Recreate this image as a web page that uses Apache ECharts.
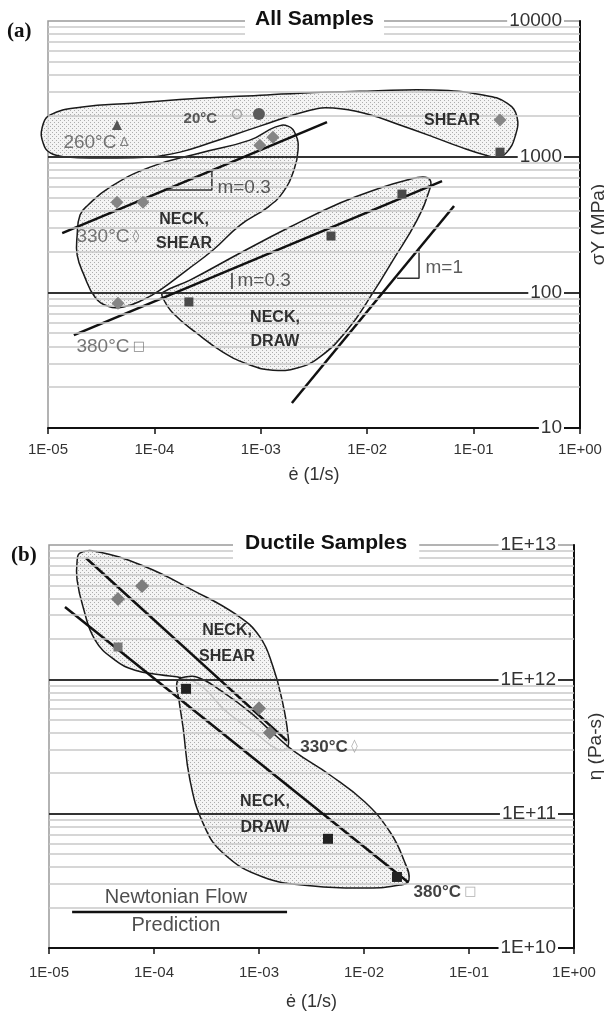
<!DOCTYPE html>
<html>
<head>
<meta charset="utf-8">
<script src="https://cdn.jsdelivr.net/npm/echarts@6/dist/echarts.min.js"></script>
<style>
html, body { margin: 0; padding: 0; background: #fff; }
#chart { width: 604px; height: 1017px; }
</style>
</head>
<body>
<div id="chart"></div>
<script>
// ---------- (a) All Samples : flow stress vs strain rate ----------
var aTriangle = [[4.45e-5, 1710]];
var aCircle = [[9.6e-4, 2060]];
var aDiamonds = [[4.45e-5, 462], [7.8e-5, 462], [9.8e-4, 1216], [1.3e-3, 1393], [0.177, 1860], [4.55e-5, 83]];
var aSquares = [[0.177, 1080], [2.11e-4, 85], [4.57e-3, 260], [0.0212, 530]];
var aRoomKey = [[5.97e-4, 2060]];   // hollow circle next to "20°C"

var aFitShear = [[1.36e-5, 273], [4.19e-3, 1800]];
var aFitDraw = [[1.75e-5, 48.4], [0.0505, 661]];
var aSlopeOne = [[1.96e-3, 15.3], [0.0655, 433]];
var aTri1 = [[1.31e-4, 568], [3.47e-4, 568], [3.47e-4, 783]];
var aTri2 = [[5.36e-4, 106], [5.36e-4, 139]];
var aTri3 = [[0.0191, 127], [0.0307, 127], [0.0307, 208]];

// outlines of the shaded regions
var aBlobShear = [[8.8e-6, 1630], [1.05e-5, 2030], [2.1e-5, 2320], [6.3e-5, 2480], [2.7e-4, 2700], [1.14e-3, 2850],
  [2.33e-3, 2940], [1.0e-2, 3040], [0.0415, 3100], [0.1225, 2850], [0.206, 2480], [0.256, 1960], [0.245, 1400],
  [0.206, 1080], [0.17, 995], [0.128, 1030], [0.0745, 1180], [0.0415, 1400], [0.0203, 1710], [0.01, 2060],
  [4.8e-3, 2280], [2.9e-3, 2200], [9.8e-4, 1680], [3.3e-4, 1260], [1.74e-4, 1080], [9.1e-5, 995],
  [3.1e-5, 977], [1.5e-5, 995], [1.05e-5, 1065], [9.0e-6, 1260]];
var aBlobNeckShear = [[1.88e-5, 264], [2.0e-5, 372], [2.38e-5, 440], [3.83e-5, 597], [9.1e-5, 838], [2.69e-4, 1064],
  [7.9e-4, 1325], [1.36e-3, 1650], [1.8e-3, 1680], [2.14e-3, 1440], [2.24e-3, 1120], [2.05e-3, 796],
  [1.62e-3, 548], [1.17e-3, 425], [6.4e-4, 313], [3.56e-4, 205], [2.02e-4, 146], [1.13e-4, 104],
  [7.8e-5, 88], [5.1e-5, 78], [3.66e-5, 79], [2.77e-5, 92], [2.18e-5, 134], [1.88e-5, 188]];
var aBlobNeckDraw = [[1.2e-4, 100], [2.16e-4, 123], [6.4e-4, 195], [1.88e-3, 303], [5.55e-3, 455], [0.0132, 587],
  [0.0237, 673], [0.0334, 708], [0.039, 673], [0.039, 587], [0.0294, 341], [0.0175, 173], [0.0113, 99],
  [6.5e-3, 52.7], [3.6e-3, 33.4], [2.2e-3, 27.7], [1.3e-3, 26.7], [7.9e-4, 29.1], [4.4e-4, 36.3],
  [2.5e-4, 50], [1.5e-4, 70], [1.2e-4, 91]];

// ---------- (b) Ductile Samples : viscosity vs strain rate ----------
var bDiamonds = [[4.54e-5, 3.97e12], [7.7e-5, 4.95e12], [1.0e-3, 6.1e11], [1.27e-3, 4.0e11]];
var bGraySquares = [[4.54e-5, 1.74e12]];
var bSquares = [[2.02e-4, 8.5e11], [4.54e-3, 6.5e10], [0.0206, 3.38e10]];

var bFitShear = [[2.25e-5, 8.0e12], [1.85e-3, 3.48e11]];
var bFitDraw = [[1.42e-5, 3.46e12], [0.0262, 3.1e10]];
var bNewtonian = [[1.66e-5, 1.85e10], [1.85e-3, 1.85e10]];

var bBlobNeckShear = [[1.85e-5, 7.5e12], [1.97e-5, 8.7e12], [2.74e-5, 9.0e12], [7.85e-5, 7.0e12], [2.35e-4, 4.6e12],
  [6.2e-4, 3.0e12], [1.02e-3, 2.07e12], [1.36e-3, 1.24e12], [1.66e-3, 7.0e11], [1.89e-3, 3.85e11],
  [1.85e-3, 3.08e11], [1.48e-3, 3.03e11], [9.2e-4, 4.0e11], [4.7e-4, 5.9e11], [2.9e-4, 8.8e11],
  [1.89e-4, 1.02e12], [1.14e-4, 1.08e12], [6.6e-5, 1.17e12], [4.25e-5, 1.39e12], [2.74e-5, 1.97e12],
  [2.11e-5, 3.46e12], [1.85e-5, 5.5e12]];
var bBlobNeckDraw = [[1.66e-4, 9.6e11], [1.97e-4, 1.04e12], [2.74e-4, 1.02e12], [4.26e-4, 8.3e11], [8.2e-4, 5.7e11],
  [1.42e-3, 3.85e11], [2.2e-3, 2.88e11], [4.74e-3, 1.94e11], [0.0102, 1.22e11], [0.0177, 7.3e10],
  [0.024, 4.5e10], [0.0268, 3.2e10], [0.022, 2.94e10], [0.0107, 2.8e10], [3.27e-3, 2.9e10],
  [1.09e-3, 3.38e10], [4.54e-4, 5.1e10], [2.93e-4, 8.5e10], [2.2e-4, 1.78e11], [1.89e-4, 4.4e11],
  [1.73e-4, 7.0e11]];

// ---------- annotations [x, y, text] ----------
var aTempNotes = [[1.38e-5, 1260, '{t|260°C} {g|Δ}'], [1.83e-5, 256, '{t|330°C} {g|◊}'], [1.83e-5, 39.5, '{t|380°C} {g|□}']];
var aRoomNote = [[1.86e-4, 1890, '20°C']];
var aRegionNotes = [[0.0627, 1860, 'SHEAR'], [1.9e-4, 278, 'NECK,\nSHEAR'], [1.36e-3, 52.7, 'NECK,\nDRAW']];
var aSlopeNotes = [[3.87e-4, 588, 'm=0.3'], [5.97e-4, 121, 'm=0.3'], [0.0349, 151, 'm=1']];
var bRegionNotes = [[4.96e-4, 1.84e12, 'NECK,\nSHEAR'], [1.14e-3, 9.78e10, 'NECK,\nDRAW']];
var bTempNotes = [[2.45e-3, 3.14e11, '{t|330°C} {g|◊}'], [0.0293, 2.61e10, '{t|380°C} {g|□}']];
var bNewtonNotes = [[1.62e-4, 2.36e10, 'Newtonian Flow'], [1.62e-4, 1.48e10, 'Prediction']];

var FONT = '"Liberation Sans", Arial, sans-serif';

// stipple fill of the regions
var pat = document.createElement('canvas');
pat.width = 4; pat.height = 4;
var pc = pat.getContext('2d');
pc.fillStyle = 'rgba(242,242,242,0.82)';
pc.fillRect(0, 0, 4, 4);
pc.fillStyle = '#adadad';
pc.fillRect(0, 0, 1, 1);
pc.fillRect(2, 2, 1, 1);
var stipple = { image: pat, repeat: 'repeat' };

function expLabel(v) {
  var e = Math.round(Math.log10(v));
  var a = Math.abs(e);
  return '1E' + (e < 0 ? '-' : '+') + (a < 10 ? '0' + a : a);
}

function minorVals(lo, hi) {
  var v = [];
  for (var d = lo; d < hi * 0.999; d *= 10) {
    for (var k = 2; k <= 9; k++) v.push(k * d);
  }
  return v;
}

function xAxisCfg(gi, margin, gap) {
  return {
    type: 'log', gridIndex: gi, logBase: 10, min: 1e-5, max: 1, position: 'bottom', z: 3,
    axisLine: { show: true, onZero: false, lineStyle: { color: '#111', width: 2 } },
    axisTick: { show: true, length: 6, lineStyle: { color: '#111', width: 1.5 } },
    axisLabel: { formatter: expLabel, fontSize: 15, color: '#333', fontFamily: FONT, margin: margin,
      showMinLabel: true, showMaxLabel: true },
    splitLine: { show: false },
    name: 'ė (1/s)', nameLocation: 'middle', nameGap: gap,
    nameTextStyle: { fontSize: 18, color: '#333', fontFamily: FONT }
  };
}

function yAxisCfg(gi, min, max, fmt, name, gap) {
  return {
    type: 'log', gridIndex: gi, logBase: 10, min: min, max: max, position: 'right', z: 3,
    axisLine: { show: true, onZero: false, lineStyle: { color: '#111', width: 2 } },
    axisTick: { show: false },
    axisLabel: { inside: true, formatter: fmt, fontSize: 19, color: '#333', fontFamily: FONT, margin: 16,
      backgroundColor: '#fff', padding: [0, 2], showMinLabel: true, showMaxLabel: true },
    splitLine: { show: true, showMinLine: false, showMaxLine: false, lineStyle: { color: '#333', width: 2 } },
    name: name, nameLocation: 'middle', nameRotate: 90, nameGap: gap,
    nameTextStyle: { fontSize: 19, color: '#333', fontFamily: FONT }
  };
}

function minorGrid(gi, lo, hi) {
  return {
    type: 'line', xAxisIndex: gi, yAxisIndex: gi, data: [], z: 1, silent: true,
    markLine: {
      silent: true, symbol: ['none', 'none'], label: { show: false }, animation: false,
      lineStyle: { color: '#c8c8c8', width: 1.5, type: 'solid' },
      emphasis: { disabled: true },
      data: minorVals(lo, hi).map(function (v) { return { yAxis: v }; })
    }
  };
}

function blob(gi, pts) {
  return {
    type: 'custom', xAxisIndex: gi, yAxisIndex: gi, z: 2, silent: true,
    dimensions: ['x', 'y'], encode: { x: 0, y: 1 }, data: pts,
    renderItem: function (params, api) {
      if (params.dataIndex !== 0) return null;
      var poly = pts.map(function (p) { return api.coord(p); });
      return {
        type: 'polygon',
        shape: { points: poly, smooth: 0.45 },
        style: { fill: stipple, stroke: '#1a1a1a', lineWidth: 1.5 }
      };
    }
  };
}

function segment(gi, pts, width, color) {
  return {
    type: 'line', xAxisIndex: gi, yAxisIndex: gi, data: pts, z: 4, silent: true,
    symbol: 'none', lineStyle: { color: color, width: width }, animation: false
  };
}

function marks(gi, pts, symbol, size, color, border) {
  var style = { color: color, opacity: 1 };
  if (border) { style.borderColor = border; style.borderWidth = 1.5; }
  return {
    type: 'scatter', xAxisIndex: gi, yAxisIndex: gi, data: pts, z: 5, silent: true,
    symbol: symbol, symbolSize: size, itemStyle: style
  };
}

function notes(gi, list, label) {
  var lab = Object.assign({ show: true, formatter: '{b}', fontFamily: FONT, textBorderWidth: 0 }, label);
  return {
    type: 'scatter', xAxisIndex: gi, yAxisIndex: gi, z: 6, silent: true,
    symbolSize: 1, itemStyle: { color: 'rgba(0,0,0,0)' },
    data: list.map(function (n) { return { value: [n[0], n[1]], name: n[2] }; }),
    label: lab
  };
}

var boldCenter = { position: 'inside', align: 'center', fontSize: 16, fontWeight: 'bold', color: '#000', lineHeight: 24 };

var chart = echarts.init(document.getElementById('chart'), null, { renderer: 'canvas' });
chart.setOption({
  animation: false,
  backgroundColor: '#fff',
  title: [
    { text: 'All Samples', left: 245, top: 5, backgroundColor: '#fff', padding: [4, 10, 9, 10],
      textStyle: { fontSize: 21, fontWeight: 'bold', color: '#111', fontFamily: FONT } },
    { text: '(a)', left: 7, top: 21, padding: 0,
      textStyle: { fontSize: 21, fontWeight: 'bold', color: '#111', fontFamily: '"Liberation Serif", "Times New Roman", serif' } },
    { text: 'Ductile Samples', left: 233, top: 530, backgroundColor: '#fff', padding: [3, 12, 8, 12],
      textStyle: { fontSize: 21, fontWeight: 'bold', color: '#111', fontFamily: FONT } },
    { text: '(b)', left: 11, top: 545, padding: 0,
      textStyle: { fontSize: 21, fontWeight: 'bold', color: '#111', fontFamily: '"Liberation Serif", "Times New Roman", serif' } }
  ],
  grid: [
    { left: 48, right: 24, top: 21, height: 407, outerBoundsMode: 'none', containLabel: false,
      show: true, borderColor: '#9a9a9a', borderWidth: 1.5, backgroundColor: 'transparent' },
    { left: 49, right: 30, top: 545, height: 403, outerBoundsMode: 'none', containLabel: false,
      show: true, borderColor: '#9a9a9a', borderWidth: 1.5, backgroundColor: 'transparent' }
  ],
  xAxis: [xAxisCfg(0, 14, 38), xAxisCfg(1, 17, 45)],
  yAxis: [
    yAxisCfg(0, 10, 10000, function (v) { return String(Math.round(v)); }, 'σY (MPa)', 9),
    yAxisCfg(1, 1e10, 1e13, expLabel, 'η (Pa-s)', 12)
  ],
  series: [
    minorGrid(0, 10, 10000),
    minorGrid(1, 1e10, 1e13),

    blob(0, aBlobShear),
    blob(0, aBlobNeckShear),
    blob(0, aBlobNeckDraw),
    blob(1, bBlobNeckShear),
    blob(1, bBlobNeckDraw),

    segment(0, aFitShear, 2.5, '#111'),
    segment(0, aFitDraw, 2.5, '#111'),
    segment(0, aSlopeOne, 2.5, '#111'),
    segment(0, aTri1, 1.5, '#333'),
    segment(0, aTri2, 1.5, '#333'),
    segment(0, aTri3, 1.5, '#333'),
    segment(1, bFitShear, 2.5, '#111'),
    segment(1, bFitDraw, 2.5, '#111'),
    segment(1, bNewtonian, 2.5, '#111'),

    marks(0, aDiamonds, 'diamond', 13, '#858585'),
    marks(0, aSquares, 'rect', 9, '#4a4a4a'),
    marks(0, aTriangle, 'triangle', 10, '#555'),
    marks(0, aCircle, 'circle', 12, '#5a5a5a'),
    marks(0, aRoomKey, 'circle', 9, 'rgba(255,255,255,0)', '#aaa'),
    marks(1, bDiamonds, 'diamond', 14, '#7d7d7d'),
    marks(1, bGraySquares, 'rect', 9, '#777'),
    marks(1, bSquares, 'rect', 10, '#222'),

    notes(0, aTempNotes, { position: 'right', distance: 0, rich: {
      t: { fontSize: 19, color: '#555', fontFamily: FONT },
      g: { fontSize: 13, color: '#666', fontFamily: '"DejaVu Sans", sans-serif' } } }),
    notes(0, aRoomNote, { position: 'right', distance: 0, fontSize: 15, fontWeight: 'bold', color: '#333' }),
    notes(0, aRegionNotes, boldCenter),
    notes(0, aSlopeNotes, { position: 'right', distance: 0, fontSize: 19, color: '#333' }),
    notes(1, bRegionNotes, Object.assign({}, boldCenter, { lineHeight: 26 })),
    notes(1, bTempNotes, { position: 'right', distance: 0, rich: {
      t: { fontSize: 17, fontWeight: 'bold', color: '#111', fontFamily: FONT },
      g: { fontSize: 13, color: '#999', fontFamily: '"DejaVu Sans", sans-serif' } } }),
    notes(1, bNewtonNotes, { position: 'inside', align: 'center', fontSize: 20, color: '#222' })
  ]
});
</script>
</body>
</html>
